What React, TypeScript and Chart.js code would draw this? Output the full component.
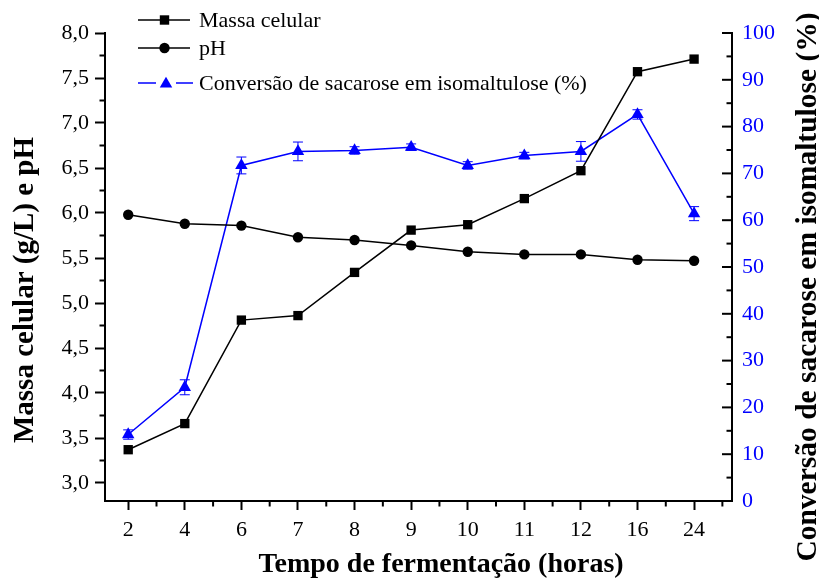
import React, { useEffect, useRef } from 'react';
import { Chart, registerables } from 'chart.js';

Chart.register(...registerables);

const categories = ['2', '4', '6', '7', '8', '9', '10', '11', '12', '16', '24'];
const massaCelular = [3.37, 3.66, 4.81, 4.86, 5.34, 5.81, 5.87, 6.16, 6.47, 7.57, 7.71];
const phValues = [5.98, 5.88, 5.86, 5.73, 5.7, 5.64, 5.57, 5.54, 5.54, 5.48, 5.47];
const conversao = [14.2, 24.3, 71.7, 74.7, 74.9, 75.6, 71.7, 73.8, 74.7, 82.6, 61.4];
const conversaoErro = [1.0, 1.6, 1.8, 2.0, 0.8, 0.7, 0.8, 0.7, 2.1, 1.0, 1.5];
const leftTicks = [3.0, 3.5, 4.0, 4.5, 5.0, 5.5, 6.0, 6.5, 7.0, 7.5, 8.0];
const rightTicks = [0, 10, 20, 30, 40, 50, 60, 70, 80, 90, 100];
const seriesLabels = ['Massa celular', 'pH', 'Conversão de sacarose em isomaltulose (%)'];
const xTitle = 'Tempo de fermentação (horas)';
const yLeftTitle = 'Massa celular (g/L) e pH';
const yRightTitle = 'Conversão de sacarose em isomaltulose (%)';

const SERIF = "'Liberation Serif', 'Times New Roman', serif";
const BLUE = '#0000ff';
const BLACK = '#000000';

function drawMarker(ctx: CanvasRenderingContext2D, style: string, x: number, y: number, color: string) {
  ctx.fillStyle = color;
  ctx.beginPath();
  if (style === 'rect') {
    ctx.rect(x - 4.7, y - 4.7, 9.4, 9.4);
  } else if (style === 'circle') {
    ctx.arc(x, y, 5.2, 0, Math.PI * 2);
  } else {
    const r = 7.2;
    ctx.moveTo(x, y - r);
    ctx.lineTo(x + r * 0.866, y + r / 2);
    ctx.lineTo(x - r * 0.866, y + r / 2);
    ctx.closePath();
  }
  ctx.fill();
}

function line(ctx: CanvasRenderingContext2D, x1: number, y1: number, x2: number, y2: number) {
  ctx.beginPath();
  ctx.moveTo(x1, y1);
  ctx.lineTo(x2, y2);
  ctx.stroke();
}

const errorBarsPlugin = {
  id: 'errorBars',
  afterDatasetsDraw(chart: any) {
    const ctx = chart.ctx as CanvasRenderingContext2D;
    const x = chart.scales.x;
    const y1 = chart.scales.y1;
    ctx.save();
    ctx.strokeStyle = BLUE;
    ctx.lineWidth = 1;
    conversao.forEach((v, i) => {
      const px = x.getPixelForValue(i);
      const top = y1.getPixelForValue(v + conversaoErro[i]);
      const bot = y1.getPixelForValue(v - conversaoErro[i]);
      line(ctx, px, top, px, bot);
      line(ctx, px - 5, top, px + 5, top);
      line(ctx, px - 5, bot, px + 5, bot);
    });
    ctx.restore();
  },
};

const decorPlugin = {
  id: 'decor',
  afterDraw(chart: any) {
    const ctx = chart.ctx as CanvasRenderingContext2D;
    const { x, y, y1 } = chart.scales;
    const area = chart.chartArea;
    ctx.save();
    ctx.strokeStyle = BLACK;
    ctx.lineWidth = 2;
    // minor ticks on x axis
    for (let i = 0; i < categories.length; i++) {
      const v = i + 0.5;
      if (v > x.max) continue;
      const px = x.getPixelForValue(v);
      line(ctx, px, area.bottom, px, area.bottom + 5.5);
    }
    // minor ticks on left axis
    for (let k = 0; k < leftTicks.length - 1; k++) {
      const py = y.getPixelForValue((leftTicks[k] + leftTicks[k + 1]) / 2);
      line(ctx, area.left - 5.5, py, area.left, py);
    }
    // right axis ticks pointing inward
    rightTicks.forEach((v) => {
      const py = y1.getPixelForValue(v);
      line(ctx, area.right - 10, py, area.right, py);
    });
    for (let k = 0; k < rightTicks.length - 1; k++) {
      const py = y1.getPixelForValue((rightTicks[k] + rightTicks[k + 1]) / 2);
      line(ctx, area.right - 5.5, py, area.right, py);
    }

    // legend
    const legend = [
      { label: seriesLabels[0], style: 'rect', color: BLACK, y: 20, split: false },
      { label: seriesLabels[1], style: 'circle', color: BLACK, y: 48, split: false },
      { label: seriesLabels[2], style: 'triangle', color: BLUE, y: 83, split: true },
    ];
    ctx.lineWidth = 1.5;
    legend.forEach((e) => {
      ctx.strokeStyle = e.color;
      if (e.split) {
        line(ctx, 138, e.y, 156, e.y);
        line(ctx, 176, e.y, 193, e.y);
        drawMarker(ctx, e.style, 166, e.y + 1, e.color);
      } else {
        line(ctx, 138, e.y, 190, e.y);
        drawMarker(ctx, e.style, 164.5, e.y, e.color);
      }
      ctx.fillStyle = BLACK;
      ctx.font = `22px ${SERIF}`;
      ctx.textAlign = 'left';
      ctx.textBaseline = 'middle';
      ctx.fillText(e.label, 199, e.y + 1);
    });

    // axis titles
    ctx.fillStyle = BLACK;
    ctx.textBaseline = 'alphabetic';
    ctx.textAlign = 'center';
    ctx.font = `bold 28px ${SERIF}`;
    ctx.fillText(xTitle, 441, 572);

    ctx.save();
    ctx.translate(33, 290);
    ctx.rotate(-Math.PI / 2);
    ctx.font = `bold 29px ${SERIF}`;
    ctx.fillText(yLeftTitle, 0, 0);
    ctx.restore();

    ctx.save();
    ctx.translate(816, 287);
    ctx.rotate(-Math.PI / 2);
    ctx.font = `bold 29.5px ${SERIF}`;
    ctx.fillText(yRightTitle, 0, 0);
    ctx.restore();

    ctx.restore();
  },
};

export default function App() {
  const canvasRef = useRef<HTMLCanvasElement | null>(null);

  useEffect(() => {
    const canvas = canvasRef.current;
    if (!canvas) return;
    const tickFont = { family: SERIF, size: 22 };
    const chart = new Chart(canvas, {
      type: 'line',
      data: {
        datasets: [
          {
            label: seriesLabels[0],
            data: massaCelular.map((v, i) => ({ x: i, y: v })),
            yAxisID: 'y',
            borderColor: BLACK,
            backgroundColor: BLACK,
            borderWidth: 1.5,
            pointStyle: 'rect',
            pointRadius: 6.6,
            pointBorderWidth: 0,
            tension: 0,
          },
          {
            label: seriesLabels[1],
            data: phValues.map((v, i) => ({ x: i, y: v })),
            yAxisID: 'y',
            borderColor: BLACK,
            backgroundColor: BLACK,
            borderWidth: 1.5,
            pointStyle: 'circle',
            pointRadius: 5.2,
            pointBorderWidth: 0,
            tension: 0,
          },
          {
            label: seriesLabels[2],
            data: conversao.map((v, i) => ({ x: i, y: v })),
            yAxisID: 'y1',
            borderColor: BLUE,
            backgroundColor: BLUE,
            borderWidth: 1.5,
            pointStyle: 'triangle',
            pointRadius: 7.2,
            pointBorderWidth: 0,
            tension: 0,
          },
        ],
      },
      options: {
        animation: false,
        responsive: false,
        layout: { padding: { top: 33, left: 0, right: 0, bottom: 0 } },
        plugins: {
          legend: { display: false },
          tooltip: { enabled: false },
          title: { display: false },
        },
        scales: {
          x: {
            type: 'linear',
            min: -0.41,
            max: 10.67,
            afterBuildTicks: (s: any) => {
              s.ticks = categories.map((_, i) => ({ value: i }));
            },
            afterFit: (s: any) => {
              s.height = 77;
            },
            ticks: {
              callback: (v: any) => categories[v] ?? '',
              font: tickFont,
              color: BLACK,
              padding: 7,
              maxRotation: 0,
              autoSkip: false,
            },
            grid: { drawOnChartArea: false, drawTicks: true, tickLength: 9, tickWidth: 2, tickColor: BLACK },
            border: { display: true, color: BLACK, width: 2 },
          },
          y: {
            type: 'linear',
            position: 'left',
            min: 2.8,
            max: 8.0,
            afterBuildTicks: (s: any) => {
              s.ticks = leftTicks.map((v) => ({ value: v }));
            },
            afterFit: (s: any) => {
              s.width = 105;
            },
            ticks: {
              callback: (v: any) => Number(v).toFixed(1).replace('.', ','),
              font: tickFont,
              color: BLACK,
              padding: 6,
            },
            grid: { drawOnChartArea: false, drawTicks: true, tickLength: 10, tickWidth: 2, tickColor: BLACK },
            border: { display: true, color: BLACK, width: 2 },
          },
          y1: {
            type: 'linear',
            position: 'right',
            min: 0,
            max: 100,
            afterBuildTicks: (s: any) => {
              s.ticks = rightTicks.map((v) => ({ value: v }));
            },
            afterFit: (s: any) => {
              s.width = 87;
            },
            ticks: {
              callback: (v: any) => String(v),
              font: tickFont,
              color: BLUE,
              padding: 10,
            },
            grid: { display: false, drawOnChartArea: false, drawTicks: false },
            border: { display: true, color: BLACK, width: 2 },
          },
        },
      },
      plugins: [errorBarsPlugin, decorPlugin],
    } as any);
    return () => {
      chart.destroy();
    };
  }, []);

  return (
    <div style={{ position: 'absolute', left: 0, top: 0, width: 819, height: 578, background: '#fff' }}>
      <canvas ref={canvasRef} width={819} height={578} style={{ display: 'block', width: 819, height: 578 }} />
    </div>
  );
}
